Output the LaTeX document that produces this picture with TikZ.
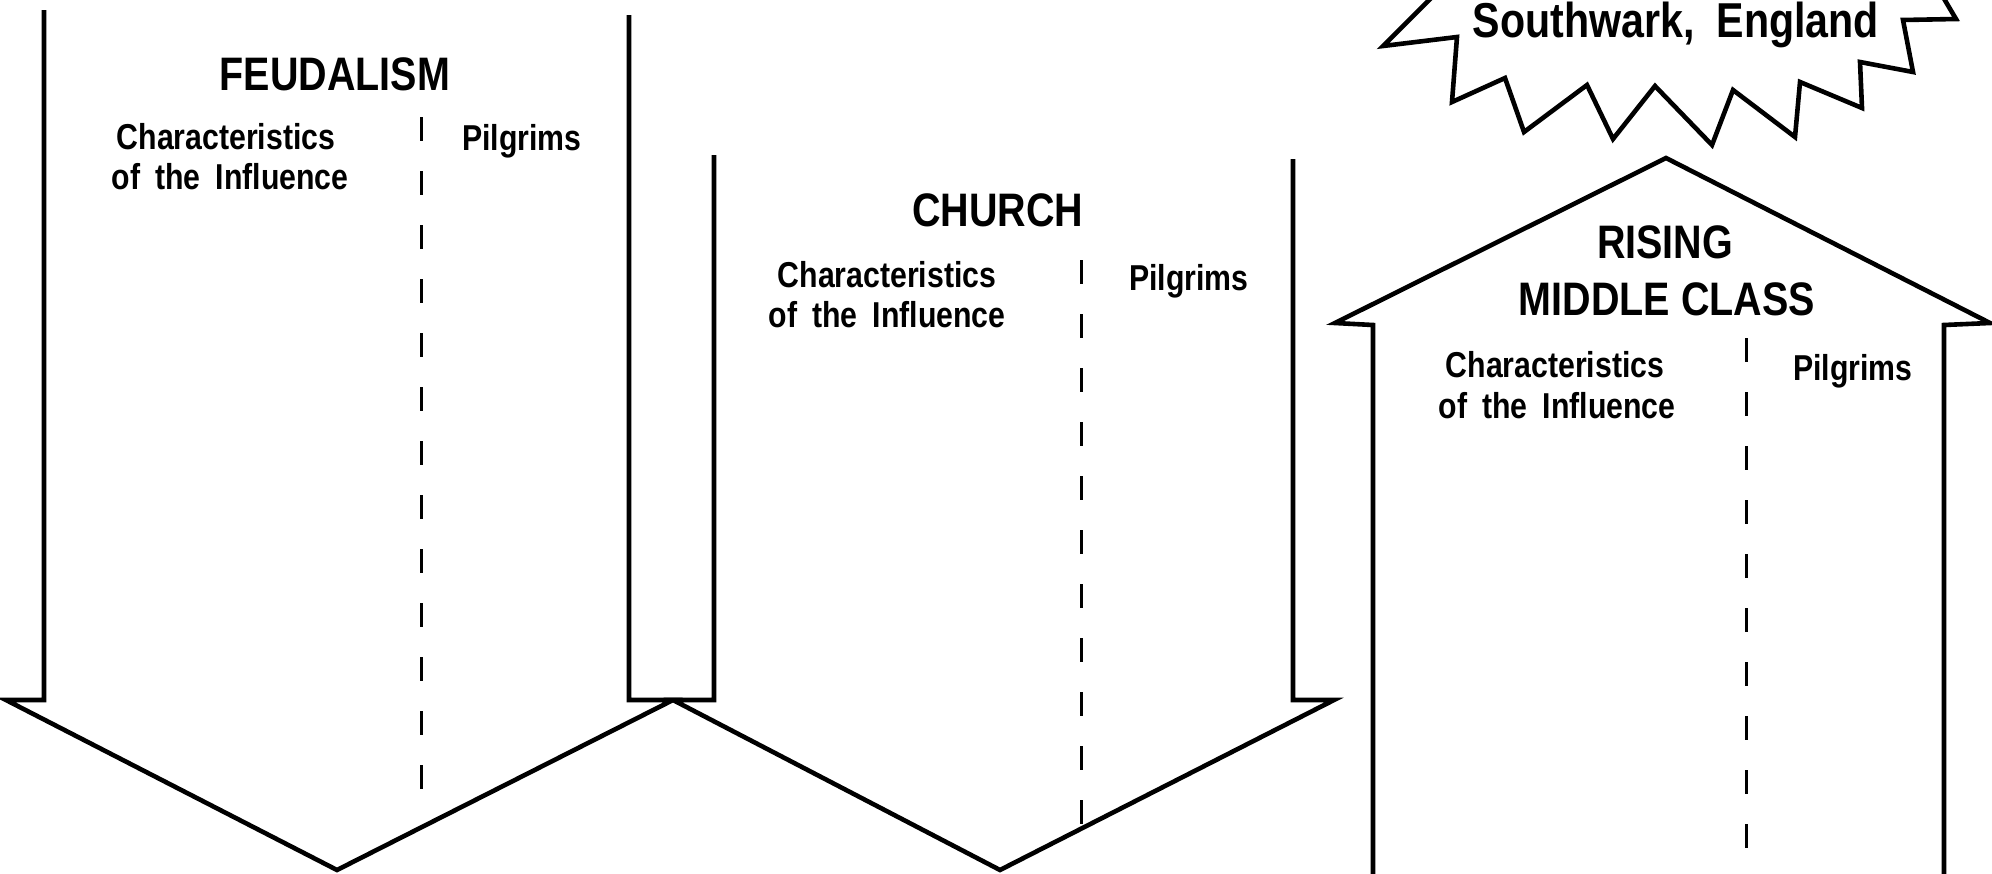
\documentclass[tikz,border=0pt]{standalone}
\usepackage{fontspec}
\newfontfamily\lab[FakeStretch=0.84]{Liberation Sans}
\newcommand{\wsp}{\hspace{0.42em}}
\tikzset{
  outline/.style={line width=4.6pt, line join=miter, black},
  divider/.style={line width=3pt, dash pattern=on 24pt off 30pt},
  title/.style={font=\lab\bfseries\fontsize{47}{50}\selectfont, anchor=base, inner sep=0pt},
  label/.style={font=\lab\bfseries\fontsize{36}{40}\selectfont, anchor=base, inner sep=0pt}
}
\begin{document}
\begin{tikzpicture}[x=1pt, y=-1pt]
\useasboundingbox (0,0) rectangle (1992,873);

% Feudalism: downward arrow
\draw[outline] (44,10) -- (44,700) -- (6,700) -- (337,870) -- (673,700) -- (629,700) -- (629,15);
\draw[divider] (421,117) -- (421,812);
\node[title] (feud) at (335,90) {FEUDALISM};
\node[label] (fchar) at (226,149) {Characteristics};
\node[label] (finfl) at (230,189) {of\wsp the\wsp Influence};
\node[label] (fpil) at (522,150) {Pilgrims};

% Church: downward arrow
\draw[outline] (714,155) -- (714,700) -- (673,700) -- (1000,870) -- (1334,700) -- (1293,700) -- (1293,159);
\draw[divider] (1081,260) -- (1081,829);
\node[title] (church) at (998,226) {CHURCH};
\node[label] (cchar) at (887,287) {Characteristics};
\node[label] (cinfl) at (887,327) {of\wsp the\wsp Influence};
\node[label] (cpil) at (1189,290) {Pilgrims};

% Rising middle class: upward house-shaped arrow
\draw[outline] (1373,875) -- (1373,325) -- (1335,323) -- (1666,158) -- (1990,323) -- (1944,325) -- (1944,875);
\draw[divider] (1746,338) -- (1746,873);
\node[title] (rise1) at (1665,258) {RISING};
\node[title] (rise2) at (1667,315) {MIDDLE CLASS};
\node[label] (mchar) at (1555,377) {Characteristics};
\node[label] (minfl) at (1557,418) {of\wsp the\wsp Influence};
\node[label] (mpil) at (1853,380) {Pilgrims};

% Starburst with the place name
\draw[outline] (1432,-3) -- (1383,46) -- (1457,37) -- (1452,102) -- (1505,78) -- (1524,132)
  -- (1587,85) -- (1613,139) -- (1655,86) -- (1712,145) -- (1733,90) -- (1795,137)
  -- (1800,82) -- (1862,108) -- (1860,62) -- (1913,72) -- (1903,20) -- (1956,19) -- (1943,-3);
\node[title, font=\lab\bfseries\fontsize{49}{54}\selectfont] (place) at (1676,37) {Southwark,\hspace{0.45em}England};
\end{tikzpicture}
\end{document}
